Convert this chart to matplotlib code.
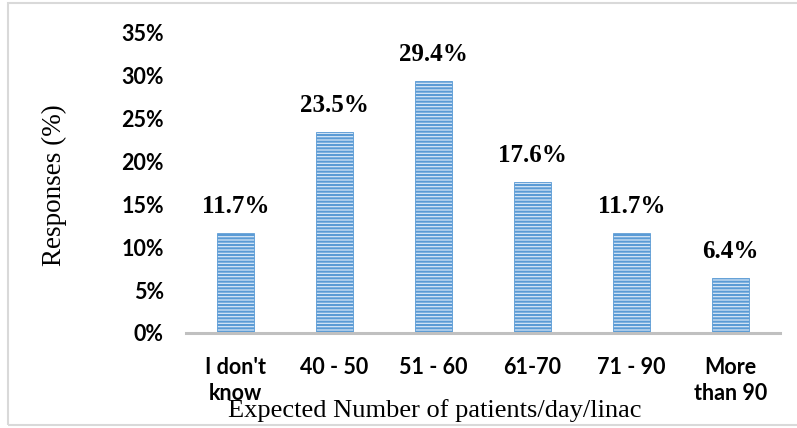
import matplotlib.pyplot as plt
from matplotlib.patches import Rectangle

categories = ["I don't\nknow", "40 - 50", "51 - 60", "61-70", "71 - 90", "More\nthan 90"]
responses = [11.7, 23.5, 29.4, 17.6, 11.7, 6.4]
yticks = [0, 5, 10, 15, 20, 25, 30, 35]

plt.rcParams['hatch.linewidth'] = 1.5
plt.rcParams['hatch.color'] = '#5b9bd5'

fig = plt.figure(figsize=(7.97, 4.28), dpi=100)
ax = fig.add_axes([0.2334, 0.222, 0.7453, 0.701])

x = range(len(categories))
bars = ax.bar(x, responses, width=0.38, color='#d6e6f6', edgecolor='#5b9bd5',
              linewidth=0.6, hatch='-----')

for b, v in zip(bars, responses):
    ax.text(b.get_x() + b.get_width() / 2, v + 1.75, f"{v}%", ha='center', va='bottom',
            fontsize=18, fontweight='bold', family='Liberation Serif')

ax.set_xlim(-0.5, len(categories) - 0.5)
ax.set_ylim(0, 35)
ax.set_yticks(yticks)
ax.set_yticklabels([f"{t}%" for t in yticks], fontsize=15.5, fontweight='bold', family='Lato')
ax.set_xticks(list(x))
ax.set_xticklabels(categories, fontsize=15.5, fontweight='bold', family='Lato',
                   linespacing=1.3, va='top')
ax.tick_params(axis='both', length=0)
ax.tick_params(axis='y', pad=16)
ax.tick_params(axis='x', pad=17)

for s in ['top', 'right', 'left']:
    ax.spines[s].set_visible(False)
ax.spines['bottom'].set_color('#c0c0c0')
ax.spines['bottom'].set_linewidth(2.2)

fig.text(0.068, 0.568, "Responses (%)", rotation=90, ha='center', va='center',
         fontsize=19.5, family='Liberation Serif')
fig.text(0.545, 0.042, "Expected Number of patients/day/linac", ha='center', va='center',
         fontsize=19, family='Liberation Serif')

# light frame around the whole chart
fig.patches.append(Rectangle((8 / 797, 3 / 428), 1.0, 422 / 428, transform=fig.transFigure,
                             fill=False, edgecolor='#d9d9d9', linewidth=1.5))

fig.savefig('out.png', dpi=100)
